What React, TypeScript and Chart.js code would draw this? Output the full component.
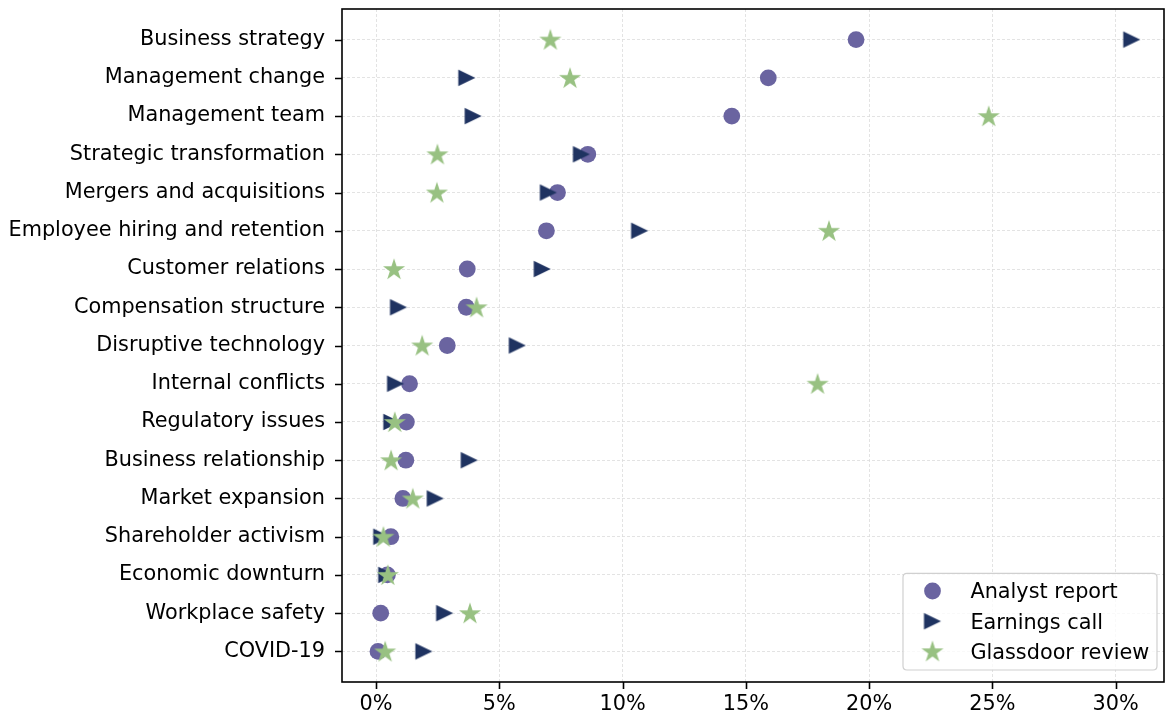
import React, { useEffect, useRef } from 'react';
import { Chart, registerables } from 'chart.js';

Chart.register(...registerables);

const categories = [
  'Business strategy',
  'Management change',
  'Management team',
  'Strategic transformation',
  'Mergers and acquisitions',
  'Employee hiring and retention',
  'Customer relations',
  'Compensation structure',
  'Disruptive technology',
  'Internal conflicts',
  'Regulatory issues',
  'Business relationship',
  'Market expansion',
  'Shareholder activism',
  'Economic downturn',
  'Workplace safety',
  'COVID-19',
];

const analystReport = [19.47, 15.91, 14.43, 8.59, 7.36, 6.91, 3.70, 3.66, 2.89, 1.36, 1.23, 1.21, 1.09, 0.60, 0.46, 0.19, 0.08];
const earningsCall = [30.65, 3.68, 3.94, 8.33, 6.99, 10.69, 6.74, 0.91, 5.73, 0.79, 0.64, 3.78, 2.40, 0.23, 0.43, 2.78, 1.94];
const glassdoorReview = [7.07, 7.87, 24.85, 2.49, 2.47, 18.37, 0.73, 4.08, 1.87, 17.91, 0.76, 0.61, 1.49, 0.30, 0.48, 3.81, 0.37];

const seriesLabels = ['Analyst report', 'Earnings call', 'Glassdoor review'];
const seriesColors = ['#6a64a0', '#1f3361', '#98c182'];
const xTicks = [0, 5, 10, 15, 20, 25, 30];

const FONT = 'DejaVu Sans';
const FONT_SIZE = 20.8;

function makeTriangle(color: string): HTMLCanvasElement {
  const c = document.createElement('canvas');
  c.width = 20;
  c.height = 20;
  const ctx = c.getContext('2d')!;
  ctx.fillStyle = color;
  ctx.beginPath();
  ctx.moveTo(18.5, 10);
  ctx.lineTo(1.5, 1.7);
  ctx.lineTo(1.5, 18.3);
  ctx.closePath();
  ctx.fill();
  return c;
}

function makeStar(color: string): HTMLCanvasElement {
  const c = document.createElement('canvas');
  c.width = 26;
  c.height = 26;
  const ctx = c.getContext('2d')!;
  const cx = 13;
  const cy = 13.8;
  const R = 11.6;
  const r = R * 0.381966;
  ctx.fillStyle = color;
  ctx.beginPath();
  for (let i = 0; i < 10; i++) {
    const rad = i % 2 === 0 ? R : r;
    const a = -Math.PI / 2 + (i * Math.PI) / 5;
    const px = cx + rad * Math.cos(a);
    const py = cy + rad * Math.sin(a);
    if (i === 0) ctx.moveTo(px, py);
    else ctx.lineTo(px, py);
  }
  ctx.closePath();
  ctx.fill();
  return c;
}

const framePlugin = {
  id: 'frameAndLegend',
  afterDraw(chart: any) {
    const ctx = chart.ctx as CanvasRenderingContext2D;
    const { left, right, top, bottom } = chart.chartArea;
    ctx.save();
    ctx.strokeStyle = '#000';
    ctx.lineWidth = 1.6;
    const xs = chart.scales.x;
    const ys = chart.scales.y;
    ctx.beginPath();
    xs.ticks.forEach((t: any) => {
      const px = Math.round(xs.getPixelForValue(t.value)) + 0.5;
      ctx.moveTo(px, bottom);
      ctx.lineTo(px, bottom + 7);
    });
    ys.ticks.forEach((t: any) => {
      const py = Math.round(ys.getPixelForValue(t.value)) + 0.5;
      ctx.moveTo(left, py);
      ctx.lineTo(left - 7, py);
    });
    ctx.stroke();
    ctx.strokeRect(left, top, right - left, bottom - top);

    // legend (lower right, inside axes)
    const bx = right - 261;
    const by = bottom - 108.7;
    const bw = 254;
    const bh = 96.7;
    const rr = 4;
    ctx.beginPath();
    ctx.moveTo(bx + rr, by);
    ctx.lineTo(bx + bw - rr, by);
    ctx.quadraticCurveTo(bx + bw, by, bx + bw, by + rr);
    ctx.lineTo(bx + bw, by + bh - rr);
    ctx.quadraticCurveTo(bx + bw, by + bh, bx + bw - rr, by + bh);
    ctx.lineTo(bx + rr, by + bh);
    ctx.quadraticCurveTo(bx, by + bh, bx, by + bh - rr);
    ctx.lineTo(bx, by + rr);
    ctx.quadraticCurveTo(bx, by, bx + rr, by);
    ctx.closePath();
    ctx.fillStyle = 'rgba(255,255,255,0.8)';
    ctx.fill();
    ctx.strokeStyle = '#d0d0d0';
    ctx.lineWidth = 1.2;
    ctx.stroke();

    const rows = [by + 17.7, by + 47.9, by + 77.9];
    chart.data.datasets.forEach((ds: any, i: number) => {
      const mx = bx + 29.5;
      const my = rows[i];
      const style = ds.pointStyle;
      if (typeof style === 'object' && style) {
        ctx.drawImage(style, mx - style.width / 2, my - style.height / 2);
      } else {
        ctx.beginPath();
        ctx.fillStyle = ds.backgroundColor;
        ctx.arc(mx, my, ds.pointRadius, 0, Math.PI * 2);
        ctx.fill();
      }
      ctx.fillStyle = '#000';
      ctx.font = `${FONT_SIZE}px "${FONT}"`;
      ctx.textAlign = 'left';
      ctx.textBaseline = 'alphabetic';
      ctx.fillText(ds.label, bx + 67.4, my + 7.4);
    });
    ctx.restore();
  },
};

export default function App() {
  const ref = useRef<HTMLCanvasElement>(null);

  useEffect(() => {
    document.body.style.margin = '0';
    const canvas = ref.current!;
    const triangle = makeTriangle(seriesColors[1]);
    const star = makeStar(seriesColors[2]);
    const toPoints = (arr: number[]) => arr.map((v, i) => ({ x: v, y: i }));

    const zeroPad = (scale: any) => {
      scale.paddingTop = 0;
      scale.paddingBottom = 0;
      scale.paddingLeft = 0;
      scale.paddingRight = 0;
    };

    const chart = new Chart(canvas, {
      type: 'scatter',
      data: {
        datasets: [
          {
            label: seriesLabels[0],
            data: toPoints(analystReport),
            pointStyle: 'circle',
            pointRadius: 8.4,
            pointHoverRadius: 8.4,
            backgroundColor: seriesColors[0],
            borderWidth: 0,
            order: 2,
          },
          {
            label: seriesLabels[1],
            data: toPoints(earningsCall),
            pointStyle: triangle as any,
            pointRadius: 10,
            backgroundColor: seriesColors[1],
            borderWidth: 0,
            order: 1,
          },
          {
            label: seriesLabels[2],
            data: toPoints(glassdoorReview),
            pointStyle: star as any,
            pointRadius: 12,
            backgroundColor: seriesColors[2],
            borderWidth: 0,
            order: 0,
          },
        ],
      },
      options: {
        responsive: false,
        animation: false,
        devicePixelRatio: 1,
        layout: { autoPadding: false, padding: { left: 0, top: 9, right: 1, bottom: 0 } },
        plugins: {
          legend: { display: false },
          tooltip: { enabled: false },
        },
        scales: {
          x: {
            type: 'linear',
            min: -1.38,
            max: 31.96,
            afterBuildTicks: (scale: any) => {
              scale.ticks = xTicks.map((v) => ({ value: v }));
            },
            afterFit: (scale: any) => {
              scale.height = 32;
              zeroPad(scale);
            },
            border: { display: false, dash: [3, 2] },
            grid: {
              color: '#dcdcdc',
              lineWidth: 0.8,
              drawTicks: false,
            },
            ticks: {
              color: '#000',
              font: { family: FONT, size: FONT_SIZE },
              padding: 10,
              maxRotation: 0,
              autoSkip: false,
              callback: (v: any) => `${v}%`,
            },
          },
          y: {
            type: 'linear',
            reverse: true,
            min: -0.8,
            max: 16.8,
            afterBuildTicks: (scale: any) => {
              scale.ticks = categories.map((_, i) => ({ value: i }));
            },
            afterFit: (scale: any) => {
              scale.width = 342;
              zeroPad(scale);
            },
            border: { display: false, dash: [3, 2] },
            grid: {
              color: '#dcdcdc',
              lineWidth: 0.8,
              drawTicks: false,
            },
            ticks: {
              color: '#000',
              font: { family: FONT, size: FONT_SIZE },
              padding: 17,
              autoSkip: false,
              callback: (v: any) => categories[Math.round(Number(v))],
            },
          },
        },
      } as any,
      plugins: [framePlugin],
    });

    return () => chart.destroy();
  }, []);

  return (
    <div style={{ width: 1165, height: 714 }}>
      <canvas ref={ref} width={1165} height={714} style={{ width: 1165, height: 714, display: 'block' }} />
    </div>
  );
}
